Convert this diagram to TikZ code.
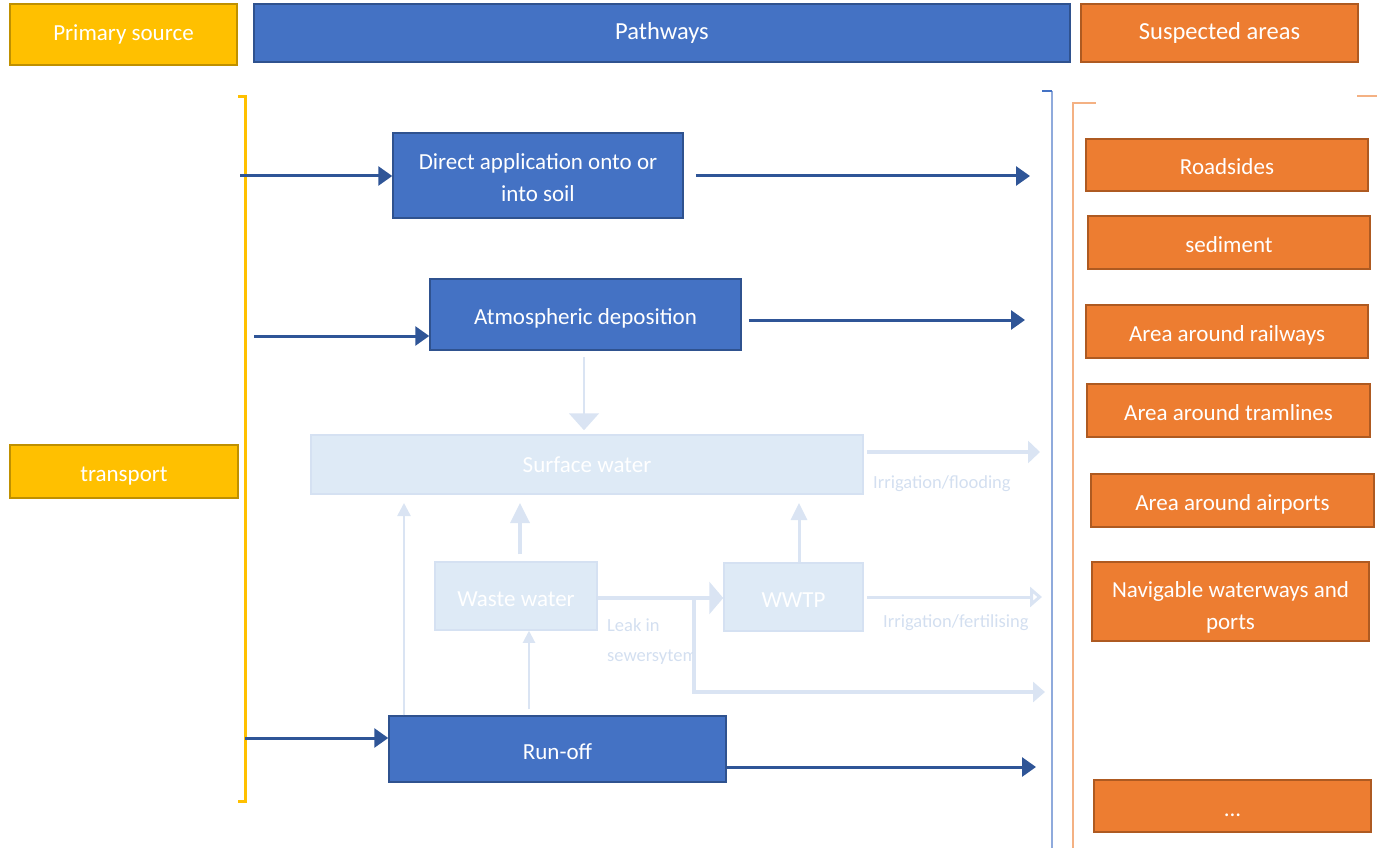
\documentclass[tikz,border=0pt]{standalone}
\usepackage{fontspec}
\setmainfont{Carlito}
\usetikzlibrary{arrows.meta}
\definecolor{yfill}{HTML}{FFC000}
\definecolor{ydraw}{HTML}{BF9000}
\definecolor{bfill}{HTML}{4472C4}
\definecolor{bdraw}{HTML}{2F528F}
\definecolor{ofill}{HTML}{ED7D31}
\definecolor{odraw}{HTML}{AE5A21}
\definecolor{arrc}{HTML}{2F5597}
\definecolor{ffill}{HTML}{DEEAF6}
\definecolor{fdraw}{HTML}{D5E1F2}
\definecolor{farr}{HTML}{DAE4F3}
\definecolor{flab}{HTML}{D3DFF0}
\definecolor{bbrk}{HTML}{8FAADC}
\definecolor{obrk}{HTML}{F4B183}
\tikzset{
  box/.style={draw, line width=1.5pt, inner sep=0pt, text=white, align=center,
    font=\fontsize{23}{32}\selectfont},
  ybox/.style={box, fill=yfill, draw=ydraw},
  bbox/.style={box, fill=bfill, draw=bdraw},
  obox/.style={box, fill=ofill, draw=odraw},
  fbox/.style={box, fill=ffill, draw=fdraw},
  hdr/.style={font=\fontsize{24.5}{32}\selectfont},
  low/.style={text height=22pt, text depth=2pt},
  btext/.style={text=white, align=center, font=\fontsize{23}{32}\selectfont, inner sep=0pt},
  darr/.style={draw=arrc, line width=3pt, -{Triangle[length=14pt,width=19pt]}},
  farrow/.style={draw=farr, line width=#1},
  flabel/.style={text=flab, font=\fontsize{18.5}{24}\selectfont, inner sep=0pt, anchor=west},
}
\begin{document}
\begin{tikzpicture}[x=1pt,y=-1pt]
\useasboundingbox (0,0) rectangle (1377,848);

% headers
\node[ybox, minimum width=227pt, minimum height=61pt] (ps) at (123.5,34.5) {Primary source};
\node[bbox, hdr, minimum width=816pt, minimum height=58pt] (pw) at (662,33) {Pathways};
\node[obox, hdr, minimum width=277pt, minimum height=58pt] (sa) at (1219.5,33) {Suspected areas};

% left
\node[ybox, low, minimum width=228pt, minimum height=53pt] (tr) at (124,471.5) {transport};

% brackets
\draw[yfill, line width=3pt] (238,97) -- (245,97) -- (245,801) -- (238,801);
\draw[bbrk, line width=1.5pt] (1052,91) -- (1052,848);
\draw[bfill, line width=1.2pt] (1042,91) -- (1052,91);
\draw[obrk, line width=1.2pt] (1073,848) -- (1073,103) -- (1096,103);
\draw[obrk, line width=1.2pt] (1357,96) -- (1377,96);

% faded middle part
\node[fbox, minimum width=552pt, minimum height=59pt] (sw) at (587,464.5) {Surface water};
\node[fbox, low, minimum width=162pt, minimum height=68pt] (ww) at (516,596) {Waste water};
\node[fbox, low, minimum width=139pt, minimum height=68pt] (wwtp) at (793.5,597) {WWTP};

% pathway boxes
\node[bbox, minimum width=290pt, minimum height=85pt,
  label={[btext, yshift=-2pt]center:Direct application onto or\\into soil}] (direct) at (538,175.5) {};
\node[bbox, low, minimum width=311pt, minimum height=71pt] (atm) at (585.5,314.5) {Atmospheric deposition};
\node[bbox, low, minimum width=337pt, minimum height=66pt] (run) at (557.5,749) {Run-off};

% suspected areas
\node[obox, low, minimum width=282pt, minimum height=52pt] (road) at (1227,165) {Roadsides};
\node[obox, low, minimum width=282pt, minimum height=53pt] (sed) at (1229,242.5) {sediment};
\node[obox, low, minimum width=282pt, minimum height=53pt] (rail) at (1227,331.5) {Area around railways};
\node[obox, low, minimum width=283pt, minimum height=53pt] (tram) at (1228.5,410.5) {Area around tramlines};
\node[obox, low, minimum width=283pt, minimum height=53pt] (air) at (1232.5,500.5) {Area around airports};
\node[obox, minimum width=277pt, minimum height=79pt,
  label={[btext, yshift=-6pt]center:Navigable waterways and\\ports}] (nav) at (1230.5,601.5) {};
\node[obox, low, minimum width=277pt, minimum height=52pt] (dots) at (1232.5,806) {...};

% dark arrows
\coordinate (d0) at (240,176);
\coordinate (d1) at (1030,176);
\coordinate (a0) at (254,336);
\coordinate (a1) at (1025,320);
\coordinate (r0) at (245,738);
\coordinate (r1) at (1036,767);
\draw[darr] (d0) -- (d0 -| direct.west);
\draw[darr] ([xshift=12pt]direct.east |- d1) -- (d1);
\draw[darr] (a0) -- (a0 -| atm.west);
\draw[darr] ([xshift=7pt]atm.east |- a1) -- (a1);
\draw[darr] (r0) -- (r0 -| run.west);
\draw[darr] (run.east |- r1) -- (r1);

% faded arrows (yshift is in canvas units: positive = up)
\coordinate (f1) at (1040,452);
\coordinate (f2) at (1042,597);
\coordinate (f3) at (1045,692);
\coordinate (fb) at (694,598);
\draw[farrow=2pt, -{Triangle[length=17pt,width=30pt]}] ([xshift=-1.5pt,yshift=-6pt]atm.south) -- ([xshift=-3pt,yshift=4pt]sw.north);
\draw[farrow=2.5pt, -{Triangle[length=13pt,width=13pt]}] ([xshift=-153.5pt]run.north) -- (404,503);
\draw[farrow=3.5pt, -{Triangle[length=20pt,width=19pt]}] ([xshift=4pt,yshift=7pt]ww.north) -- (520,503);
\draw[farrow=3pt, -{Triangle[length=17pt,width=16pt]}] ([xshift=5.5pt]wwtp.north) -- (799,503);
\draw[farrow=2pt, -{Triangle[length=12pt,width=12pt]}] ([xshift=-28.5pt,yshift=6pt]run.north) -- ([xshift=13pt]ww.south);
\draw[farrow=4.5pt, -{Triangle[length=14pt,width=32pt]}] (ww.east |- fb) -- (wwtp.west |- fb);
\draw[farrow=4pt, -{Triangle[length=12pt,width=22pt]}] ([xshift=3pt]sw.east |- f1) -- (f1);
\draw[farrow=3pt, -{Triangle[length=12pt,width=20pt,open,fill=white]}] ([xshift=3pt]wwtp.east |- f2) -- (f2);
\draw[farrow=4pt, -{Triangle[length=12pt,width=20pt]}] (fb) -- (fb |- f3) -- (f3);

% faded labels
\node[flabel] (l1) at (873,484) {Irrigation/flooding};
\node[flabel] (l2) at (883,623) {Irrigation/fertilising};
\node[flabel] (l3) at (607,625) {Leak in};
\begin{scope}
\clip (600,640) rectangle (692,675);
\node[flabel] (l4) at (607,657) {sewersytem};
\end{scope}
\end{tikzpicture}
\end{document}
